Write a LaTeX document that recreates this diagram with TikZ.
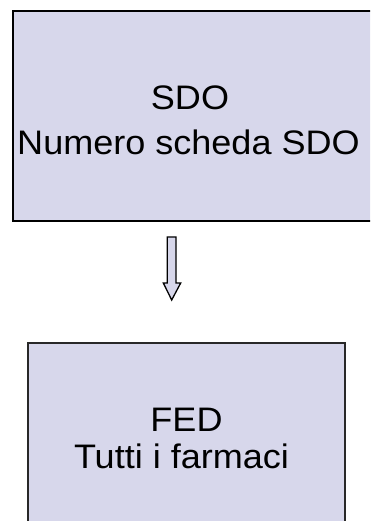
\documentclass[tikz,border=0pt]{standalone}
\usepackage{fontspec}
\setmainfont{Liberation Sans}
\definecolor{boxfill}{RGB}{215,215,235}
\definecolor{edgegray}{RGB}{40,40,40}
\tikzset{
  panel/.style={draw=black, fill=boxfill, line width=1.6pt},
  caption/.style={anchor=base, inner sep=0pt, font=\fontsize{34}{40}\selectfont,
                  xscale=1.06, transform shape},
  blockarrow/.style={draw=black, fill=boxfill, line width=1.3pt, line join=miter}
}
\begin{document}
\begin{tikzpicture}[x=1pt,y=1pt]
  \useasboundingbox (0,0) rectangle (370,521);
  \clip (0,0) rectangle (370,521);
  \fill[white] (0,0) rectangle (370,521);

  % upper panel (runs past the right edge)
  \path[panel] (13,510) rectangle (392,300);
  \coordinate (sdotop) at (188,300);
  \node[caption] (sdo) at (190,411) {SDO};
  \node[caption] (sdonum) at (188.5,366) {Numero scheda SDO};

  % lower panel (runs past the bottom edge)
  \path[panel, draw=edgegray, line width=1.3pt] (28,178) rectangle (345,-30);
  \node[caption] (fed) at (186.5,89) {FED};
  \node[caption] (fedall) at (181.5,52) {Tutti i farmaci};

  % block arrow between the panels
  \coordinate (shaftL) at (167.3,284);
  \coordinate (shaftR) at (176,284);
  \coordinate (tip) at (171.7,221);
  \path[blockarrow] (shaftL) -- (shaftR) -- (176,238) -- (180.7,238)
    -- (tip) -- (163.3,238) -- (167.3,238) -- cycle;
\end{tikzpicture}
\end{document}
